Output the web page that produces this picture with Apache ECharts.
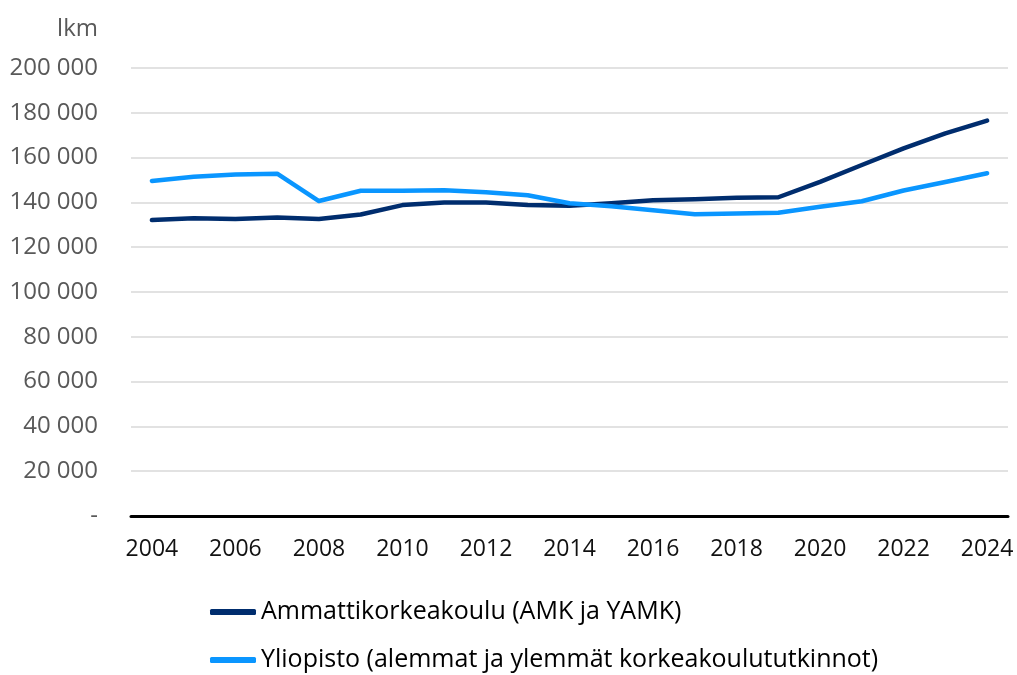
<!DOCTYPE html>
<html>
<head>
<meta charset="utf-8">
<script src="https://cdn.jsdelivr.net/npm/echarts@6/dist/echarts.min.js"></script>
<style>
  html, body { margin: 0; padding: 0; background: #fff; }
  #chart { width: 1017px; height: 675px; }
</style>
</head>
<body>
<div id="chart"></div>
<script>
var years = ['2004','2005','2006','2007','2008','2009','2010','2011','2012','2013','2014',
             '2015','2016','2017','2018','2019','2020','2021','2022','2023','2024'];
var amkName = 'Ammattikorkeakoulu (AMK ja YAMK)';
var yoName = 'Yliopisto (alemmat ja ylemmät korkeakoulututkinnot)';
var amkValues = [132100, 132900, 132600, 133300, 132600, 134600, 138800, 140000, 140000, 138800, 138500,
                 139600, 141000, 141400, 142100, 142300, 149200, 156700, 164100, 170800, 176500];
var yoValues = [149600, 151400, 152500, 152800, 140600, 145200, 145200, 145400, 144500, 143200, 139600,
                138300, 136500, 134700, 135100, 135400, 138100, 140500, 145300, 149100, 153000];

var fontFam = '"Open Sans", sans-serif';

var myChart = echarts.init(document.getElementById('chart'));

var option = {
    animation: false,
    textStyle: { fontFamily: fontFam },
    grid: { left: 131, right: 9, top: 68, bottom: 159 },
    legend: {
        orient: 'vertical',
        left: 210,
        top: 598,
        padding: 0,
        itemGap: 20,
        itemWidth: 46,
        itemHeight: 6,
        icon: 'roundRect',
        textStyle: { fontSize: 25, lineHeight: 28, color: '#000', fontFamily: fontFam },
        data: [amkName, yoName]
    },
    xAxis: {
        type: 'category',
        data: years,
        boundaryGap: true,
        axisLine: { lineStyle: { color: '#000', width: 3 } },
        axisTick: { show: false },
        axisLabel: { interval: 1, color: '#111', fontSize: 23, margin: 22, fontFamily: fontFam }
    },
    yAxis: {
        type: 'value',
        min: 0,
        max: 200000,
        interval: 20000,
        name: 'lkm',
        nameLocation: 'end',
        nameGap: 27,
        nameTextStyle: { color: '#595959', fontSize: 24, align: 'right', padding: [0, 33, 0, 0], fontFamily: fontFam },
        axisLine: { show: false },
        axisTick: { show: false },
        splitLine: { lineStyle: { color: '#d9d9d9', width: 1.5 } },
        axisLabel: {
            color: '#595959', fontSize: 24, margin: 33, fontFamily: fontFam,
            formatter: function (v) {
                if (v === 0) return '-';
                return String(v).replace(/\B(?=(\d{3})+(?!\d))/g, ' ');
            }
        }
    },
    series: [
        {
            name: amkName,
            type: 'line',
            data: amkValues,
            showSymbol: false,
            itemStyle: { color: '#002d6e' },
            lineStyle: { color: '#002d6e', width: 4.5, cap: 'round', join: 'round' }
        },
        {
            name: yoName,
            type: 'line',
            data: yoValues,
            showSymbol: false,
            itemStyle: { color: '#0a96ff' },
            lineStyle: { color: '#0a96ff', width: 4.5, cap: 'round', join: 'round' }
        }
    ]
};

myChart.setOption(option);
</script>
</body>
</html>
